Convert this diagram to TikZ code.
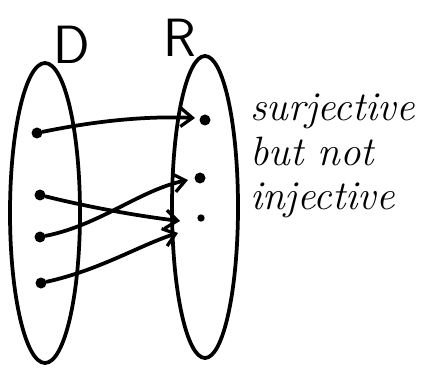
\documentclass[tikz,border=0pt]{standalone}
\usetikzlibrary{arrows.meta}
\begin{document}
\begin{tikzpicture}[x=0.03cm,y=-0.03cm,
  pen/.style={line width=3.2pt,line cap=round,line join=round},
  dotpt/.style={circle,fill=black,inner sep=0pt,minimum size=0.33cm},
  smalldot/.style={circle,fill=black,inner sep=0pt,minimum size=0.22cm},
  arr/.style={pen,-{Straight Barb[length=0.35cm,width=0.55cm,line width=2.8pt]}},
  lbl/.style={font=\fontsize{46}{46}\selectfont\sffamily},
  hand/.style={font=\fontsize{35}{38}\selectfont\itshape,align=left,anchor=north west}]
\useasboundingbox (0,0) rectangle (423,371);
\draw[pen] (45,213) ellipse [x radius=35, y radius=150];
\draw[pen] (205,207) ellipse [x radius=33, y radius=151];
\node[lbl] (D) at (72,45) {D};
\node[lbl] (R) at (180,38) {R};
\node[dotpt] (d1) at (37,133) {};
\node[dotpt] (d2) at (40,195) {};
\node[dotpt] (d3) at (40,237) {};
\node[dotpt] (d4) at (41,283) {};
\node[dotpt] (r1) at (205,120) {};
\node[dotpt] (r2) at (200,178) {};
\node[smalldot] (r3) at (201,218) {};
\draw[arr] (d1) .. controls (100,120) and (150,116) .. (195,118);
\draw[arr] (d2) .. controls (80,205) and (130,215) .. (180,221);
\draw[arr] (d3) .. controls (100,225) and (140,190) .. (188,180);
\draw[arr] (d4) .. controls (100,270) and (140,245) .. (178,233);
\node[hand] (t) at (246,90) {surjective\\but not\\injective};
\end{tikzpicture}
\end{document}
